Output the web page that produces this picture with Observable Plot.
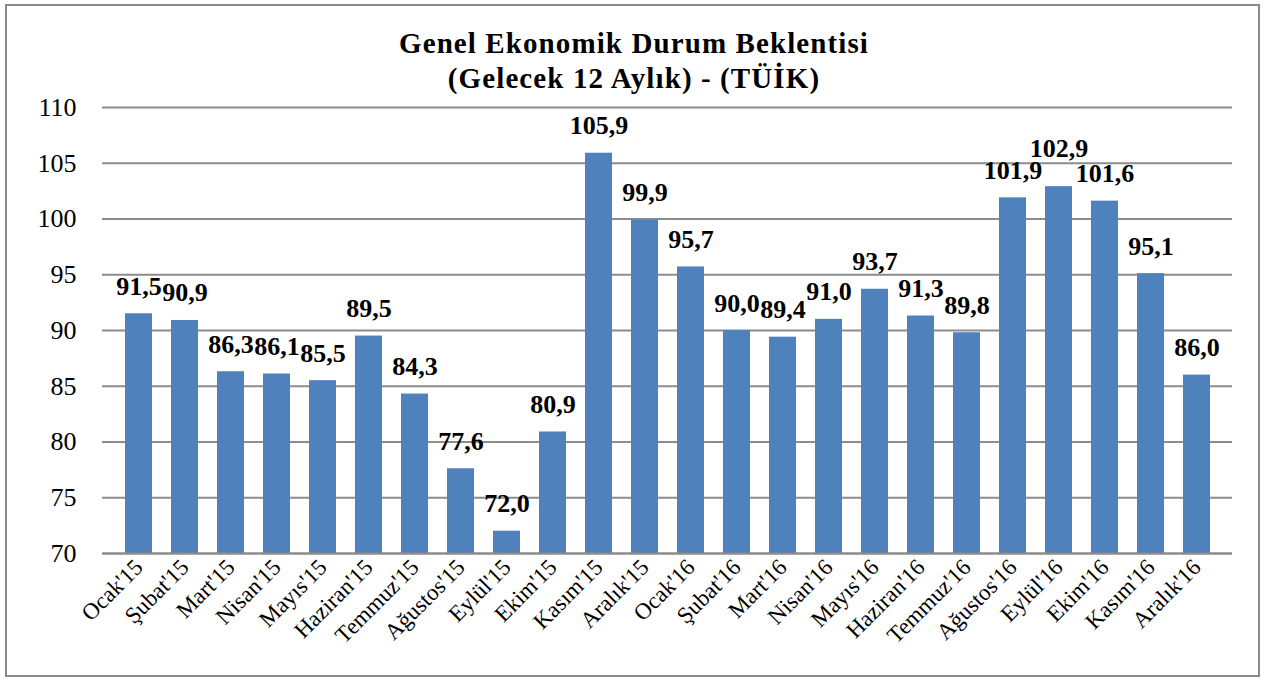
<!DOCTYPE html>
<html><head><meta charset="utf-8">
<script src="https://cdn.jsdelivr.net/npm/d3@7"></script>
<script src="https://cdn.jsdelivr.net/npm/@observablehq/plot@0.6"></script>
<style>
html,body{margin:0;padding:0;background:#fff;}
#wrap{position:relative;width:1268px;height:680px;overflow:hidden;}
#frame{position:absolute;left:5px;top:4px;width:1251px;height:669px;border:2px solid #8a8a8a;box-sizing:content-box;}
#title{position:absolute;left:0;top:26px;width:1268px;text-align:center;font-family:"Liberation Serif",serif;font-weight:bold;font-size:29px;letter-spacing:1.1px;line-height:35px;color:#000;}
#chart{position:absolute;left:0;top:0;}
#chart svg text{font-family:"Liberation Serif",serif !important;}
</style></head>
<body>
<div id="wrap">
<div id="frame"></div>
<div id="title">Genel Ekonomik Durum Beklentisi<br>(Gelecek 12 Aylık) - (TÜİK)</div>
<div id="chart"></div>
</div>
<script>
const months = ["Ocak'15","Şubat'15","Mart'15","Nisan'15","Mayıs'15","Haziran'15","Temmuz'15","Ağustos'15","Eylül'15","Ekim'15","Kasım'15","Aralık'15",
"Ocak'16","Şubat'16","Mart'16","Nisan'16","Mayıs'16","Haziran'16","Temmuz'16","Ağustos'16","Eylül'16","Ekim'16","Kasım'16","Aralık'16"];
const values = [91.5,90.9,86.3,86.1,85.5,89.5,84.3,77.6,72.0,80.9,105.9,99.9,95.7,90.0,89.4,91.0,93.7,91.3,89.8,101.9,102.9,101.6,95.1,86.0];
const yTicks = [70,75,80,85,90,95,100,105,110];
const raisedLabels = ["Eylül'16"];

const data = months.map((m,i)=>({month:m, value:values[i]}));
const fmt = v => v.toFixed(1).replace(".", ",");
const labelStyle = {x:"month", y:"value", text:d=>fmt(d.value), lineAnchor:"bottom", fontWeight:"bold", fontSize:26, fill:"#000"};

const chart = Plot.plot({
  width:1268, height:680,
  marginTop:107, marginBottom:127, marginLeft:102, marginRight:36,
  style:{background:"transparent", overflow:"visible", color:"#000"},
  x:{domain:months, padding:0.42, label:null},
  y:{domain:[70,110], label:null},
  marks:[
    Plot.ruleY(yTicks, {stroke:"#8c8c8c", strokeWidth:2, strokeOpacity:1}),
    Plot.barY(data, {x:"month", y1:70, y2:"value", fill:"#4F81BD"}),
    Plot.ruleY([70], {stroke:"#8c8c8c", strokeWidth:2}),
    Plot.axisY({ticks:yTicks, tickSize:0, tickPadding:26, tickFormat:d=>String(d), fontSize:26, label:null, fill:"#000"}),
    Plot.axisX({tickRotate:-45, tickSize:0, tickPadding:10, fontSize:23, label:null, fill:"#000"}),
    Plot.text(data, {...labelStyle, filter:d=>!raisedLabels.includes(d.month), dy:-19}),
    Plot.text(data, {...labelStyle, filter:d=>raisedLabels.includes(d.month), dy:-30})
  ]
});
document.getElementById("chart").appendChild(chart);
</script>
</body></html>
